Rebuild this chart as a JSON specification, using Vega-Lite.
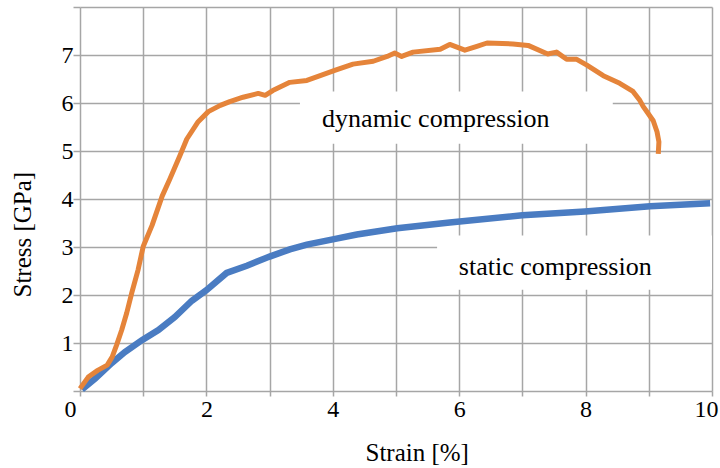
{
  "$schema": "https://vega.github.io/schema/vega-lite/v6.json",
  "width": 632,
  "height": 384,
  "autosize": {"type": "none"},
  "padding": {"left": 80, "top": 7, "right": 8, "bottom": 77},
  "background": "white",
  "config": {
    "view": {"stroke": null},
    "font": "Liberation Serif"
  },
  "datasets": {
    "dynamic": [
      {"strain": 0.0, "stress": 0.05}, {"strain": 0.13, "stress": 0.29}, {"strain": 0.28, "stress": 0.43},
      {"strain": 0.43, "stress": 0.54}, {"strain": 0.51, "stress": 0.71}, {"strain": 0.58, "stress": 0.96},
      {"strain": 0.66, "stress": 1.27}, {"strain": 0.74, "stress": 1.63}, {"strain": 0.82, "stress": 2.05},
      {"strain": 0.92, "stress": 2.53}, {"strain": 1.0, "stress": 3.01}, {"strain": 1.14, "stress": 3.45},
      {"strain": 1.3, "stress": 4.06}, {"strain": 1.42, "stress": 4.41}, {"strain": 1.58, "stress": 4.9},
      {"strain": 1.69, "stress": 5.25}, {"strain": 1.87, "stress": 5.61}, {"strain": 2.03, "stress": 5.82},
      {"strain": 2.22, "stress": 5.95}, {"strain": 2.37, "stress": 6.03}, {"strain": 2.58, "stress": 6.12},
      {"strain": 2.82, "stress": 6.2}, {"strain": 2.93, "stress": 6.16}, {"strain": 3.05, "stress": 6.26},
      {"strain": 3.32, "stress": 6.43}, {"strain": 3.59, "stress": 6.47}, {"strain": 3.8, "stress": 6.57},
      {"strain": 4.03, "stress": 6.68}, {"strain": 4.32, "stress": 6.81}, {"strain": 4.64, "stress": 6.87},
      {"strain": 4.86, "stress": 6.97}, {"strain": 4.98, "stress": 7.04}, {"strain": 5.09, "stress": 6.97},
      {"strain": 5.27, "stress": 7.06}, {"strain": 5.7, "stress": 7.12}, {"strain": 5.85, "stress": 7.22},
      {"strain": 6.09, "stress": 7.1}, {"strain": 6.28, "stress": 7.18}, {"strain": 6.44, "stress": 7.25},
      {"strain": 6.85, "stress": 7.23}, {"strain": 7.09, "stress": 7.2}, {"strain": 7.4, "stress": 7.02},
      {"strain": 7.54, "stress": 7.06}, {"strain": 7.7, "stress": 6.91}, {"strain": 7.86, "stress": 6.91},
      {"strain": 8.02, "stress": 6.79}, {"strain": 8.28, "stress": 6.57}, {"strain": 8.54, "stress": 6.41},
      {"strain": 8.75, "stress": 6.24}, {"strain": 8.86, "stress": 6.05}, {"strain": 8.91, "stress": 5.93},
      {"strain": 8.99, "stress": 5.78}, {"strain": 9.07, "stress": 5.63}, {"strain": 9.13, "stress": 5.4},
      {"strain": 9.16, "stress": 5.19}, {"strain": 9.15, "stress": 4.94}
    ],
    "static": [
      {"strain": 0.03, "stress": 0.03}, {"strain": 0.24, "stress": 0.26}, {"strain": 0.5, "stress": 0.58},
      {"strain": 0.71, "stress": 0.81}, {"strain": 0.98, "stress": 1.06}, {"strain": 1.24, "stress": 1.27},
      {"strain": 1.5, "stress": 1.54}, {"strain": 1.77, "stress": 1.88}, {"strain": 2.0, "stress": 2.1},
      {"strain": 2.32, "stress": 2.46}, {"strain": 2.64, "stress": 2.61}, {"strain": 3.0, "stress": 2.8},
      {"strain": 3.32, "stress": 2.95}, {"strain": 3.59, "stress": 3.05}, {"strain": 4.0, "stress": 3.16},
      {"strain": 4.38, "stress": 3.26}, {"strain": 5.02, "stress": 3.39}, {"strain": 5.85, "stress": 3.51},
      {"strain": 7.0, "stress": 3.66}, {"strain": 7.99, "stress": 3.74}, {"strain": 9.02, "stress": 3.85},
      {"strain": 9.97, "stress": 3.91}
    ],
    "boxes": [
      {"x1": 3.48, "x2": 8.43, "y1": 5.15, "y2": 6.24},
      {"x1": 5.65, "x2": 10.0, "y1": 2.11, "y2": 3.24}
    ],
    "labels": [
      {"strain": 5.63, "stress": 5.67, "text": "dynamic compression"},
      {"strain": 7.52, "stress": 2.59, "text": "static compression"}
    ]
  },
  "layer": [
    {
      "data": {"name": "boxes"},
      "mark": {"type": "rect", "fill": "white", "stroke": null},
      "encoding": {
        "x": {
          "field": "x1", "type": "quantitative",
          "scale": {"domain": [0, 10], "nice": false, "zero": false},
          "axis": {
            "title": "Strain [%]",
            "values": [0, 1, 2, 3, 4, 5, 6, 7, 8, 9, 10],
            "format": "d",
            "labelExpr": "datum.value % 2 == 0 ? datum.label : ''",
            "labelAlign": {"condition": {"test": "datum.value == 0 || datum.value == 10", "value": "right"}, "value": "center"},
            "labelOffset": {"condition": [{"test": "datum.value == 0", "value": -4}, {"test": "datum.value == 10", "value": 6}], "value": 0},
            "grid": true, "gridColor": "#a6a6a6", "gridWidth": 1.5, "gridOpacity": 1,
            "domain": false,
            "ticks": true, "tickColor": "#a6a6a6", "tickSize": 5, "tickWidth": 1.5,
            "labelFont": "Liberation Serif", "labelFontSize": 24, "labelColor": "black",
            "labelPadding": 1, "labelFlush": false, "labelOverlap": false,
            "titleFont": "Liberation Serif", "titleFontSize": 25, "titleFontWeight": "normal", "titleColor": "black",
            "titleAnchor": "start", "titleX": 285, "titleY": 61, "titleBaseline": "middle"
          }
        },
        "x2": {"field": "x2"},
        "y": {
          "field": "y1", "type": "quantitative",
          "scale": {"domain": [0, 8], "nice": false, "zero": false},
          "axis": {
            "title": "Stress [GPa]",
            "values": [0, 1, 2, 3, 4, 5, 6, 7, 8],
            "format": "d",
            "labelExpr": "datum.value == 0 || datum.value == 8 ? '' : datum.label",
            "grid": true, "gridColor": "#a6a6a6", "gridWidth": 1.5, "gridOpacity": 1,
            "domain": false,
            "ticks": true, "tickColor": "#a6a6a6", "tickSize": 7, "tickWidth": 1.5,
            "labelFont": "Liberation Serif", "labelFontSize": 24, "labelColor": "black",
            "labelPadding": 0, "labelOverlap": false,
            "titleFont": "Liberation Serif", "titleFontSize": 25, "titleFontWeight": "normal", "titleColor": "black",
            "titleAnchor": "start", "titleX": -58, "titleY": 290, "titleBaseline": "middle", "titleAngle": -90
          }
        },
        "y2": {"field": "y2"}
      }
    },
    {
      "data": {"name": "static"},
      "mark": {"type": "line", "color": "#4a7cc2", "strokeWidth": 6.5},
      "encoding": {
        "x": {"field": "strain", "type": "quantitative"},
        "y": {"field": "stress", "type": "quantitative"},
        "order": {"value": null}
      }
    },
    {
      "data": {"name": "dynamic"},
      "mark": {"type": "line", "color": "#e5843a", "strokeWidth": 5, "strokeJoin": "round"},
      "encoding": {
        "x": {"field": "strain", "type": "quantitative"},
        "y": {"field": "stress", "type": "quantitative"},
        "order": {"value": null}
      }
    },
    {
      "data": {"name": "labels"},
      "mark": {"type": "text", "font": "Liberation Serif", "fontSize": 26, "color": "black", "align": "center", "baseline": "middle"},
      "encoding": {
        "x": {"field": "strain", "type": "quantitative"},
        "y": {"field": "stress", "type": "quantitative"},
        "text": {"field": "text"}
      }
    }
  ]
}
